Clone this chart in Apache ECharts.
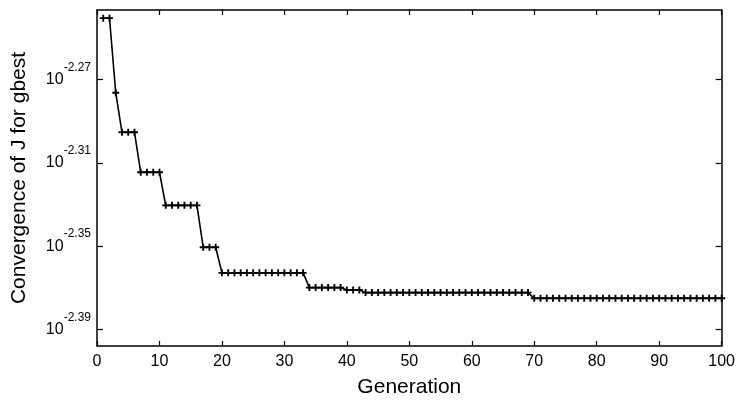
<!DOCTYPE html>
<html>
<head>
<meta charset="utf-8">
<script src="https://cdn.jsdelivr.net/npm/echarts@6/dist/echarts.min.js"></script>
<style>
html,body{margin:0;padding:0;background:#fff;}
#chart{width:738px;height:403px;}
</style>
</head>
<body>
<div id="chart"></div>
<script>
// Generation index (x) and log10 of J for gbest (y)
const generation = Array.from({length: 100}, (_, i) => i + 1);
const log10J = [
  -2.2405, -2.2405,
  -2.2763,
  -2.2953, -2.2953, -2.2953,
  -2.3145, -2.3145, -2.3145, -2.3145,
  -2.3304, -2.3304, -2.3304, -2.3304, -2.3304, -2.3304,
  -2.3505, -2.3505, -2.3505,
  -2.3628, -2.3628, -2.3628, -2.3628, -2.3628, -2.3628, -2.3628,
  -2.3628, -2.3628, -2.3628, -2.3628, -2.3628, -2.3628, -2.3628,
  -2.3699, -2.3699, -2.3699, -2.3699, -2.3699, -2.3699,
  -2.3710, -2.3710, -2.3710,
  -2.3723, -2.3723, -2.3723, -2.3723, -2.3723, -2.3723, -2.3723, -2.3723, -2.3723,
  -2.3723, -2.3723, -2.3723, -2.3723, -2.3723, -2.3723, -2.3723, -2.3723, -2.3723,
  -2.3723, -2.3723, -2.3723, -2.3723, -2.3723, -2.3723, -2.3723, -2.3723, -2.3723,
  -2.3750, -2.3750, -2.3750, -2.3750, -2.3750, -2.3750, -2.3750, -2.3750, -2.3750, -2.3750,
  -2.3750, -2.3750, -2.3750, -2.3750, -2.3750, -2.3750, -2.3750, -2.3750, -2.3750, -2.3750,
  -2.3750, -2.3750, -2.3750, -2.3750, -2.3750, -2.3750, -2.3750, -2.3750, -2.3750, -2.3750,
  -2.3750
];
const yTickExponents = [-2.39, -2.35, -2.31, -2.27];
const xRange = [0, 100];
const yRange = [Math.log10(0.004), Math.log10(0.0058)];
const xTitle = 'Generation';
const yTitle = 'Convergence of J for gbest';

const tickFont = "'Liberation Sans', Arial, sans-serif";
const titleFont = "'Liberation Sans', Arial, sans-serif";
const black = '#000';

const frameLine = {show: true, onZero: false, lineStyle: {color: black, width: 1.5}};

const chart = echarts.init(document.getElementById('chart'), null, {renderer: 'canvas'});
chart.setOption({
  animation: false,
  backgroundColor: '#fff',
  grid: {left: 97, right: 15, top: 10, bottom: 52, containLabel: false},
  xAxis: [
    {
      type: 'value', min: xRange[0], max: xRange[1], interval: 10, position: 'bottom',
      axisLine: frameLine,
      axisTick: {inside: true, length: 5, lineStyle: {color: black, width: 1.2}},
      axisLabel: {margin: 8, color: black, fontFamily: tickFont, fontSize: 16},
      splitLine: {show: false},
      name: xTitle, nameLocation: 'middle', nameGap: 31,
      nameTextStyle: {fontSize: 21, color: black, fontFamily: titleFont}
    },
    {
      type: 'value', min: xRange[0], max: xRange[1], interval: 10, position: 'top',
      axisLine: frameLine,
      axisTick: {inside: true, length: 5, lineStyle: {color: black, width: 1.2}},
      axisLabel: {show: false},
      splitLine: {show: false}
    }
  ],
  yAxis: [
    {
      type: 'value', min: yRange[0], max: yRange[1], position: 'left',
      axisLine: frameLine,
      axisTick: {inside: true, length: 6, customValues: yTickExponents, lineStyle: {color: black, width: 1.2}},
      axisLabel: {
        customValues: yTickExponents,
        margin: 6,
        formatter: v => '{b|10}{s|' + v.toFixed(2) + '}',
        rich: {
          b: {fontSize: 16, lineHeight: 16, fontFamily: tickFont, color: black, verticalAlign: 'middle'},
          s: {fontSize: 12, lineHeight: 12, fontFamily: titleFont, color: black, padding: [0, 0, 24, 0], verticalAlign: 'middle'}
        }
      },
      splitLine: {show: false},
      name: yTitle, nameLocation: 'middle', nameGap: 67, nameRotate: 90,
      nameTextStyle: {fontSize: 21, color: black, fontFamily: titleFont}
    },
    {
      type: 'value', min: yRange[0], max: yRange[1], position: 'right',
      axisLine: frameLine,
      axisTick: {inside: true, length: 6, customValues: yTickExponents, lineStyle: {color: black, width: 1.2}},
      axisLabel: {show: false},
      splitLine: {show: false}
    }
  ],
  series: [{
    type: 'line',
    xAxisIndex: 0, yAxisIndex: 0,
    data: generation.map((g, i) => [g, log10J[i]]),
    symbol: 'path://M2.2,0H3.8V2.2H6V3.8H3.8V6H2.2V3.8H0V2.2H2.2Z',
    symbolSize: 7,
    showSymbol: true,
    itemStyle: {color: black},
    lineStyle: {color: black, width: 1.6},
    emphasis: {disabled: true}
  }]
});
</script>
</body>
</html>
